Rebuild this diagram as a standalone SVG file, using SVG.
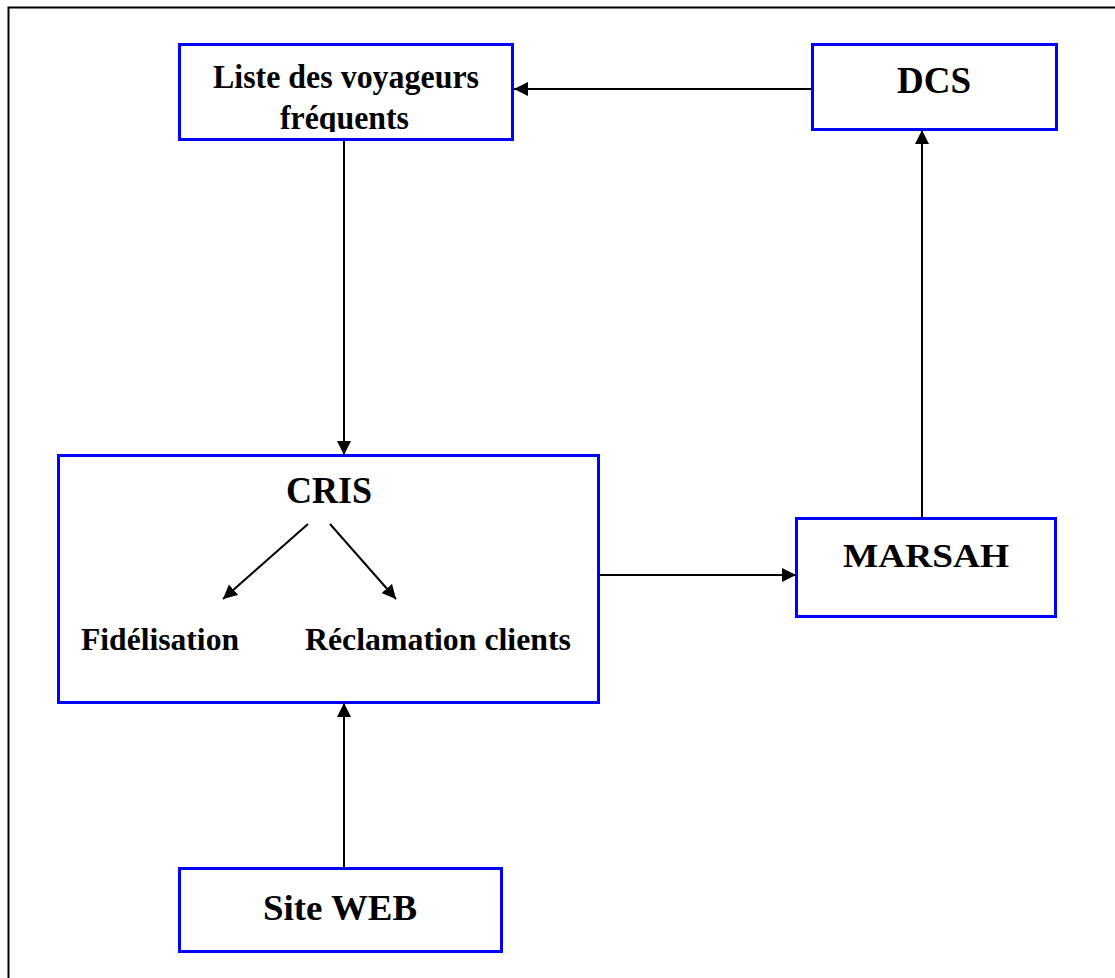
<svg xmlns="http://www.w3.org/2000/svg" width="1115" height="978" viewBox="0 0 1115 978">
<style>
.box{fill:#fff;stroke:#0000ff;stroke-width:3}
.t{font-family:"Liberation Serif","Times New Roman",serif;font-weight:bold;fill:#000}
.c{stroke:#000;stroke-width:2;fill:none}
</style>
<defs>
<marker id="ah" viewBox="0 0 10 10" refX="10" refY="5" markerWidth="14" markerHeight="14" markerUnits="userSpaceOnUse" orient="auto">
<path d="M0,0 L10,5 L0,10 z" fill="#000"/>
</marker>
<clipPath id="clipL"><rect x="181" y="46" width="330" height="86"/></clipPath>
</defs>
<rect width="1115" height="978" fill="#fff"/>
<path d="M8.5,978 V7.5 H1115" stroke="#000" stroke-width="2" fill="none"/>
<g id="liste">
<rect class="box" x="179.5" y="44.5" width="333" height="95"/>
<g clip-path="url(#clipL)">
<text class="t" x="213" y="88" font-size="33" textLength="266" lengthAdjust="spacingAndGlyphs">Liste des voyageurs</text>
<text class="t" x="280" y="129" font-size="33" textLength="129" lengthAdjust="spacingAndGlyphs">fréquents</text>
</g>
</g>
<g id="dcs">
<rect class="box" x="812.5" y="44.5" width="244" height="85"/>
<text class="t" x="897" y="93" font-size="38" textLength="74" lengthAdjust="spacingAndGlyphs">DCS</text>
</g>
<g id="cris">
<rect class="box" x="58.5" y="455.5" width="540" height="247"/>
<text class="t" x="286" y="503" font-size="37" textLength="86" lengthAdjust="spacingAndGlyphs">CRIS</text>
<text class="t" x="81" y="650" font-size="31" textLength="158" lengthAdjust="spacingAndGlyphs">Fidélisation</text>
<text class="t" x="305" y="650" font-size="31" textLength="266" lengthAdjust="spacingAndGlyphs">Réclamation clients</text>
</g>
<g id="marsah">
<rect class="box" x="796.5" y="518.5" width="259" height="98"/>
<text class="t" x="843" y="567" font-size="34" textLength="166" lengthAdjust="spacingAndGlyphs">MARSAH</text>
</g>
<g id="siteweb">
<rect class="box" x="179.5" y="868.5" width="322" height="83"/>
<text class="t" x="263" y="920" font-size="36" textLength="154" lengthAdjust="spacingAndGlyphs">Site WEB</text>
</g>
<g id="connectors">
<line class="c" x1="812" y1="89" x2="514" y2="89" marker-end="url(#ah)"/>
<line class="c" x1="344" y1="141" x2="344" y2="455" marker-end="url(#ah)"/>
<line class="c" x1="599" y1="575" x2="796" y2="575" marker-end="url(#ah)"/>
<line class="c" x1="922" y1="518" x2="922" y2="130" marker-end="url(#ah)"/>
<line class="c" x1="344" y1="868" x2="344" y2="703" marker-end="url(#ah)"/>
<line class="c" x1="308" y1="524" x2="223" y2="599" marker-end="url(#ah)"/>
<line class="c" x1="330" y1="524" x2="396" y2="599" marker-end="url(#ah)"/>
</g>
</svg>
